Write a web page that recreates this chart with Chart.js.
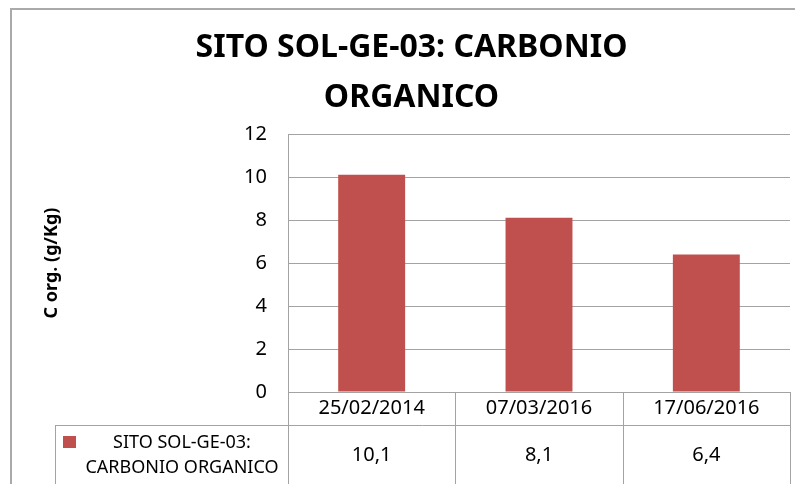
<!DOCTYPE html>
<html>
<head>
<meta charset="utf-8">
<script src="https://cdn.jsdelivr.net/npm/chart.js@4/dist/chart.umd.min.js"></script>
<style>
  html, body { margin: 0; padding: 0; background: #ffffff; }
  canvas { display: block; }
</style>
</head>
<body>
<canvas id="c" width="795" height="484"></canvas>
<script>
const titleLines = ['SITO SOL-GE-03: CARBONIO', 'ORGANICO'];
const seriesName = ['SITO SOL-GE-03:', 'CARBONIO ORGANICO'];
const yAxisTitle = 'C org. (g/Kg)';
const categories = ['25/02/2014', '07/03/2016', '17/06/2016'];
const values = [10.1, 8.1, 6.4];
const yMin = 0, yMax = 12, yStep = 2;

const FONT = "'Noto Sans', 'Open Sans', sans-serif";
const GRID = '#a3a3a3';
const BAR = '#C0504D';

const framePlugin = {
  id: 'frame',
  beforeDraw(chart) {
    const ctx = chart.ctx;
    ctx.save();
    ctx.fillStyle = '#ffffff';
    ctx.fillRect(0, 0, chart.width, chart.height);
    ctx.strokeStyle = '#aaaaaa';
    ctx.lineWidth = 2;
    ctx.beginPath();
    ctx.moveTo(11, chart.height);
    ctx.lineTo(11, 9);
    ctx.lineTo(chart.width, 9);
    ctx.stroke();
    ctx.restore();
  }
};

const tablePlugin = {
  id: 'dataTable',
  afterDraw(chart) {
    const ctx = chart.ctx;
    const x = chart.scales.x;
    const area = chart.chartArea;
    const n = categories.length;
    const w = (area.right - area.left) / n;
    const rowTop = area.bottom;
    const row2 = rowTop + 33;
    const bottom = chart.height + 2;
    const legendLeft = 55;
    ctx.save();
    ctx.strokeStyle = GRID;
    ctx.lineWidth = 1;
    ctx.beginPath();
    for (let i = 0; i <= n; i++) {
      const px = Math.round(area.left + i * w) + 0.5;
      ctx.moveTo(px, rowTop);
      ctx.lineTo(px, bottom);
    }
    ctx.moveTo(legendLeft + 0.5, row2);
    ctx.lineTo(legendLeft + 0.5, bottom);
    ctx.moveTo(legendLeft, row2 + 0.5);
    ctx.lineTo(area.right, row2 + 0.5);
    ctx.stroke();

    // legend key
    ctx.fillStyle = BAR;
    ctx.fillRect(63, 436, 13, 12);
    ctx.fillStyle = '#000000';
    ctx.font = '18px ' + FONT;
    ctx.textAlign = 'center';
    ctx.textBaseline = 'middle';
    const cx = (76 + area.left) / 2;
    ctx.fillText(seriesName[0], cx, 443);
    ctx.fillText(seriesName[1], cx, 468);

    ctx.font = '20px ' + FONT;
    for (let i = 0; i < n; i++) {
      const px = x.getPixelForValue(i);
      ctx.fillText(String(values[i]).replace('.', ','), px, 455);
    }
    ctx.restore();
  }
};

new Chart(document.getElementById('c'), {
  type: 'bar',
  data: {
    labels: categories,
    datasets: [{
      label: seriesName.join(' '),
      data: values,
      backgroundColor: BAR,
      borderWidth: 0,
      barPercentage: 0.4,
      categoryPercentage: 1.0
    }]
  },
  options: {
    responsive: false,
    animation: false,
    events: [],
    layout: { padding: { left: 33, right: 5, top: 0, bottom: 0 } },
    plugins: {
      legend: { display: false },
      tooltip: { enabled: false },
      title: {
        display: true,
        text: titleLines,
        color: '#000000',
        font: { family: FONT, size: 32, weight: 'bold', lineHeight: 1.5625 },
        padding: { top: 23, bottom: 11 }
      }
    },
    scales: {
      x: {
        afterFit(scale) { scale.height = 92; },
        grid: { display: false, drawTicks: false },
        border: { display: false },
        ticks: {
          color: '#000000',
          font: { family: FONT, size: 20 },
          padding: 4,
          maxRotation: 0,
          autoSkip: false
        }
      },
      y: {
        min: yMin,
        max: yMax,
        afterFit(scale) { scale.width = 255; },
        grid: { color: GRID, drawTicks: false },
        border: { display: true, color: GRID },
        ticks: {
          stepSize: yStep,
          color: '#000000',
          font: { family: FONT, size: 20 },
          padding: 21
        },
        title: {
          display: true,
          text: yAxisTitle,
          color: '#000000',
          font: { family: FONT, size: 18, weight: 'bold' },
          padding: { top: 8, bottom: 0 }
        }
      }
    }
  },
  plugins: [framePlugin, tablePlugin]
});
</script>
</body>
</html>
